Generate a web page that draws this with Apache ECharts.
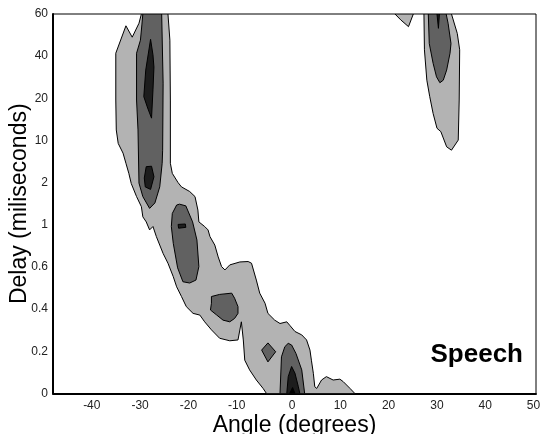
<!DOCTYPE html>
<html>
<head>
<meta charset="utf-8">
<script src="https://cdn.jsdelivr.net/npm/echarts@6/dist/echarts.min.js"></script>
<style>
  html, body { margin: 0; padding: 0; background: #fff; }
  #main { width: 541px; height: 434px; }
</style>
</head>
<body>
<div id="main"></div>
<script>
// y axis: delay steps are evenly spaced, value = index into this list
var delayLabels = ['0', '0.2', '0.4', '0.6', '1', '2', '10', '20', '40', '60'];
var angleTicks = [-40, -30, -20, -10, 0, 10, 20, 30, 40, 50];

// contour polygons, [angle, delay index]
var bandLeftOuter = [
  [-31.7, 9], [-26.2, 9], [-25.8, 8.38], [-25.7, 6.96], [-25.7, 5.46], [-25.3, 5.22],
  [-24.1, 5.0], [-23.4, 4.9], [-21.7, 4.79], [-20.6, 4.67], [-20.0, 4.35], [-19.8, 4.07],
  [-18.6, 3.96], [-17.9, 3.88], [-17.5, 3.72], [-16.5, 3.52], [-15.8, 3.24], [-15.1, 3.01],
  [-14.4, 2.93], [-13.4, 3.05], [-11.3, 3.12], [-9.6, 3.13], [-8.9, 3.09], [-7.9, 2.69],
  [-7.2, 2.38], [-6.1, 2.14], [-5.5, 1.9], [-4.1, 1.74], [-3.0, 1.66], [-1.6, 1.7],
  [-1.0, 1.62], [0.1, 1.47], [1.5, 1.39], [2.5, 1.27], [3.2, 1.03], [3.5, 0.79],
  [3.9, 0.48], [4.2, 0.16], [4.6, 0.12], [5.6, 0.32], [6.6, 0.4], [8.0, 0.32],
  [9.4, 0.34], [10.1, 0.28], [11.5, 0.12], [12.5, 0], [-5.8, 0], [-6.5, 0.12],
  [-7.9, 0.32], [-9.3, 0.56], [-10.3, 0.79], [-10.6, 1.27], [-11.0, 1.7], [-11.7, 1.27],
  [-13.4, 1.25], [-15.5, 1.31], [-17.2, 1.51], [-18.6, 1.7], [-19.6, 1.86], [-21.0, 1.9],
  [-22.4, 2.06], [-23.4, 2.3], [-24.4, 2.53], [-25.1, 2.77], [-26.2, 3.09], [-27.2, 3.32],
  [-27.9, 3.52], [-28.6, 3.72], [-29.3, 3.96], [-30.0, 3.88], [-30.7, 4.07], [-31.4, 4.19],
  [-31.7, 4.43], [-32.7, 4.67], [-33.8, 4.98], [-34.3, 5.22], [-34.9, 5.46], [-35.5, 5.7],
  [-36.5, 5.93], [-36.9, 6.25], [-37.0, 6.96], [-37.0, 8.07], [-34.9, 8.72], [-33.6, 8.45],
  [-32.2, 8.78]
];
var bandLeftMid = [
  [-31.4, 9], [-27.5, 9], [-27.2, 7.36], [-27.3, 5.77], [-27.4, 5.46], [-27.9, 4.9],
  [-28.9, 4.52], [-30.0, 4.39], [-31.4, 4.67], [-32.2, 4.99], [-32.4, 6.25], [-32.7, 6.96],
  [-32.7, 8.07], [-31.9, 8.38], [-31.6, 8.74]
];
var bandLeftCoreTop = [
  [-29.8, 8.4], [-29.3, 8.03], [-29.1, 7.74], [-29.3, 7.2], [-29.6, 6.53], [-30.4, 6.77],
  [-31.2, 7.04], [-30.8, 7.67]
];
var bandLeftCoreLow = [
  [-30.7, 5.38], [-29.6, 5.39], [-29.1, 5.14], [-29.8, 4.84], [-30.9, 4.9], [-31.1, 5.11]
];
var midIsland1 = [
  [-23.8, 4.49], [-22.5, 4.45], [-21.1, 4.07], [-20.2, 3.64], [-19.8, 3.01], [-20.4, 2.69],
  [-21.7, 2.62], [-23.1, 2.65], [-24.2, 2.98], [-25.1, 3.56], [-25.5, 3.96], [-25.3, 4.27],
  [-24.4, 4.47]
];
var darkIsland1 = [[-24.1, 4.01], [-22.6, 4.02], [-22.5, 3.94], [-24.0, 3.92]];
var midIsland2 = [
  [-17.2, 2.3], [-15.5, 2.35], [-13.0, 2.38], [-12.4, 2.26], [-11.7, 2.06], [-11.7, 1.9],
  [-12.4, 1.78], [-13.4, 1.7], [-14.8, 1.74], [-16.1, 1.86], [-17.4, 1.98], [-17.2, 2.14]
];
var midDiamond = [[-6.8, 1.03], [-5.5, 1.2], [-3.9, 0.99], [-5.5, 0.75]];
var peakMid = [
  [-3.0, 0], [-2.7, 0.87], [-2.0, 1.11], [-1.3, 1.19], [-0.6, 1.15], [0.3, 0.95],
  [1.5, 0.56], [2.1, 0]
];
var peakDark = [[-1.6, 0], [-1.3, 0.4], [-0.6, 0.64], [0.1, 0.48], [0.8, 0.16], [1.1, 0]];
var peakBlack = [[-1.0, 0], [-0.4, 0.14], [0.1, 0]];
var rightSpeck = [[20.8, 9], [22.0, 8.86], [23.6, 8.7], [24.6, 9]];
var bandRightOuter = [
  [26.8, 9], [32.5, 9], [33.7, 8.54], [34.2, 8.15], [34.1, 6.96], [33.9, 6.01],
  [32.5, 5.77], [31.5, 5.85], [30.8, 6.06], [30.3, 6.21], [29.5, 6.29], [28.7, 6.64],
  [28.0, 7.04], [27.4, 7.43], [26.9, 8.15]
];
var bandRightMid = [
  [27.7, 9], [31.4, 9], [31.8, 8.78], [32.4, 8.3], [32.2, 8.07], [31.5, 7.67],
  [30.8, 7.43], [30.1, 7.37], [29.4, 7.51], [28.7, 7.83], [27.9, 8.3]
];
var bandRightCore = [[29.5, 9], [29.8, 8.66], [30.0, 9]];

var levelColors = ['#b3b3b3', '#616161', '#1d1d1d', '#000000'];
var shapes = [
  { level: 0, pts: bandLeftOuter },
  { level: 0, pts: rightSpeck },
  { level: 0, pts: bandRightOuter },
  { level: 1, pts: bandLeftMid },
  { level: 1, pts: midIsland1 },
  { level: 1, pts: midIsland2 },
  { level: 1, pts: midDiamond },
  { level: 1, pts: peakMid },
  { level: 1, pts: bandRightMid },
  { level: 2, pts: bandLeftCoreTop },
  { level: 2, pts: bandLeftCoreLow },
  { level: 2, pts: darkIsland1 },
  { level: 2, pts: peakDark },
  { level: 2, pts: bandRightCore },
  { level: 3, pts: peakBlack }
];

var font = "'Liberation Sans', Arial, sans-serif";
var myChart = echarts.init(document.getElementById('main'));
myChart.setOption({
  animation: false,
  backgroundColor: '#fff',
  grid: {
    left: 53, right: 5, top: 14, bottom: 40.5,
    outerBoundsMode: 'none',
    containLabel: false,
    show: true, borderColor: '#000', borderWidth: 1
  },
  xAxis: {
    type: 'value',
    min: -50,
    max: 50,
    interval: 10,
    name: 'Angle (degrees)',
    nameLocation: 'middle',
    nameGap: 21,
    nameMoveOverlap: false,
    nameTextStyle: { fontFamily: font, fontSize: 23, color: '#000' },
    axisLine: { show: true, onZero: false, lineStyle: { color: '#000', width: 2 } },
    axisTick: { show: false },
    splitLine: { show: false },
    axisLabel: {
      customValues: angleTicks,
      margin: 6,
      fontFamily: font,
      fontSize: 12,
      color: '#222',
      // labels in the picture sit a little left of their ticks
      formatter: function (v) { return v < 0 ? '{neg|' + v + '}' : '{pos|' + v + '}'; },
      rich: {
        neg: { fontFamily: font, fontSize: 12, color: '#222', padding: [0, 19, 0, 0] },
        pos: { fontFamily: font, fontSize: 12, color: '#222', padding: [0, 5, 0, 0] }
      }
    }
  },
  yAxis: {
    type: 'value',
    min: 0,
    max: 9,
    interval: 1,
    name: 'Delay (miliseconds)',
    nameLocation: 'middle',
    nameGap: 22,
    nameMoveOverlap: false,
    nameTextStyle: { fontFamily: font, fontSize: 23, color: '#000' },
    axisLine: { show: true, onZero: false, lineStyle: { color: '#000', width: 2 } },
    axisTick: { show: false },
    splitLine: { show: false },
    axisLabel: {
      margin: 5,
      fontFamily: font,
      fontSize: 12,
      color: '#222',
      formatter: function (v) { return delayLabels[Math.round(v)]; }
    }
  },
  graphic: [{
    type: 'text',
    right: 18,
    top: 342,
    style: { text: 'Speech', font: 'bold 26px ' + font, fill: '#000' }
  }],
  series: [{
    type: 'custom',
    coordinateSystem: 'cartesian2d',
    silent: true,
    clip: true,
    data: shapes.map(function (s, i) { return [i]; }),
    renderItem: function (params, api) {
      var s = shapes[params.dataIndex];
      return {
        type: 'polygon',
        shape: { points: s.pts.map(function (p) { return api.coord(p); }) },
        style: { fill: levelColors[s.level], stroke: '#000', lineWidth: 1 }
      };
    }
  }]
});
</script>
</body>
</html>
